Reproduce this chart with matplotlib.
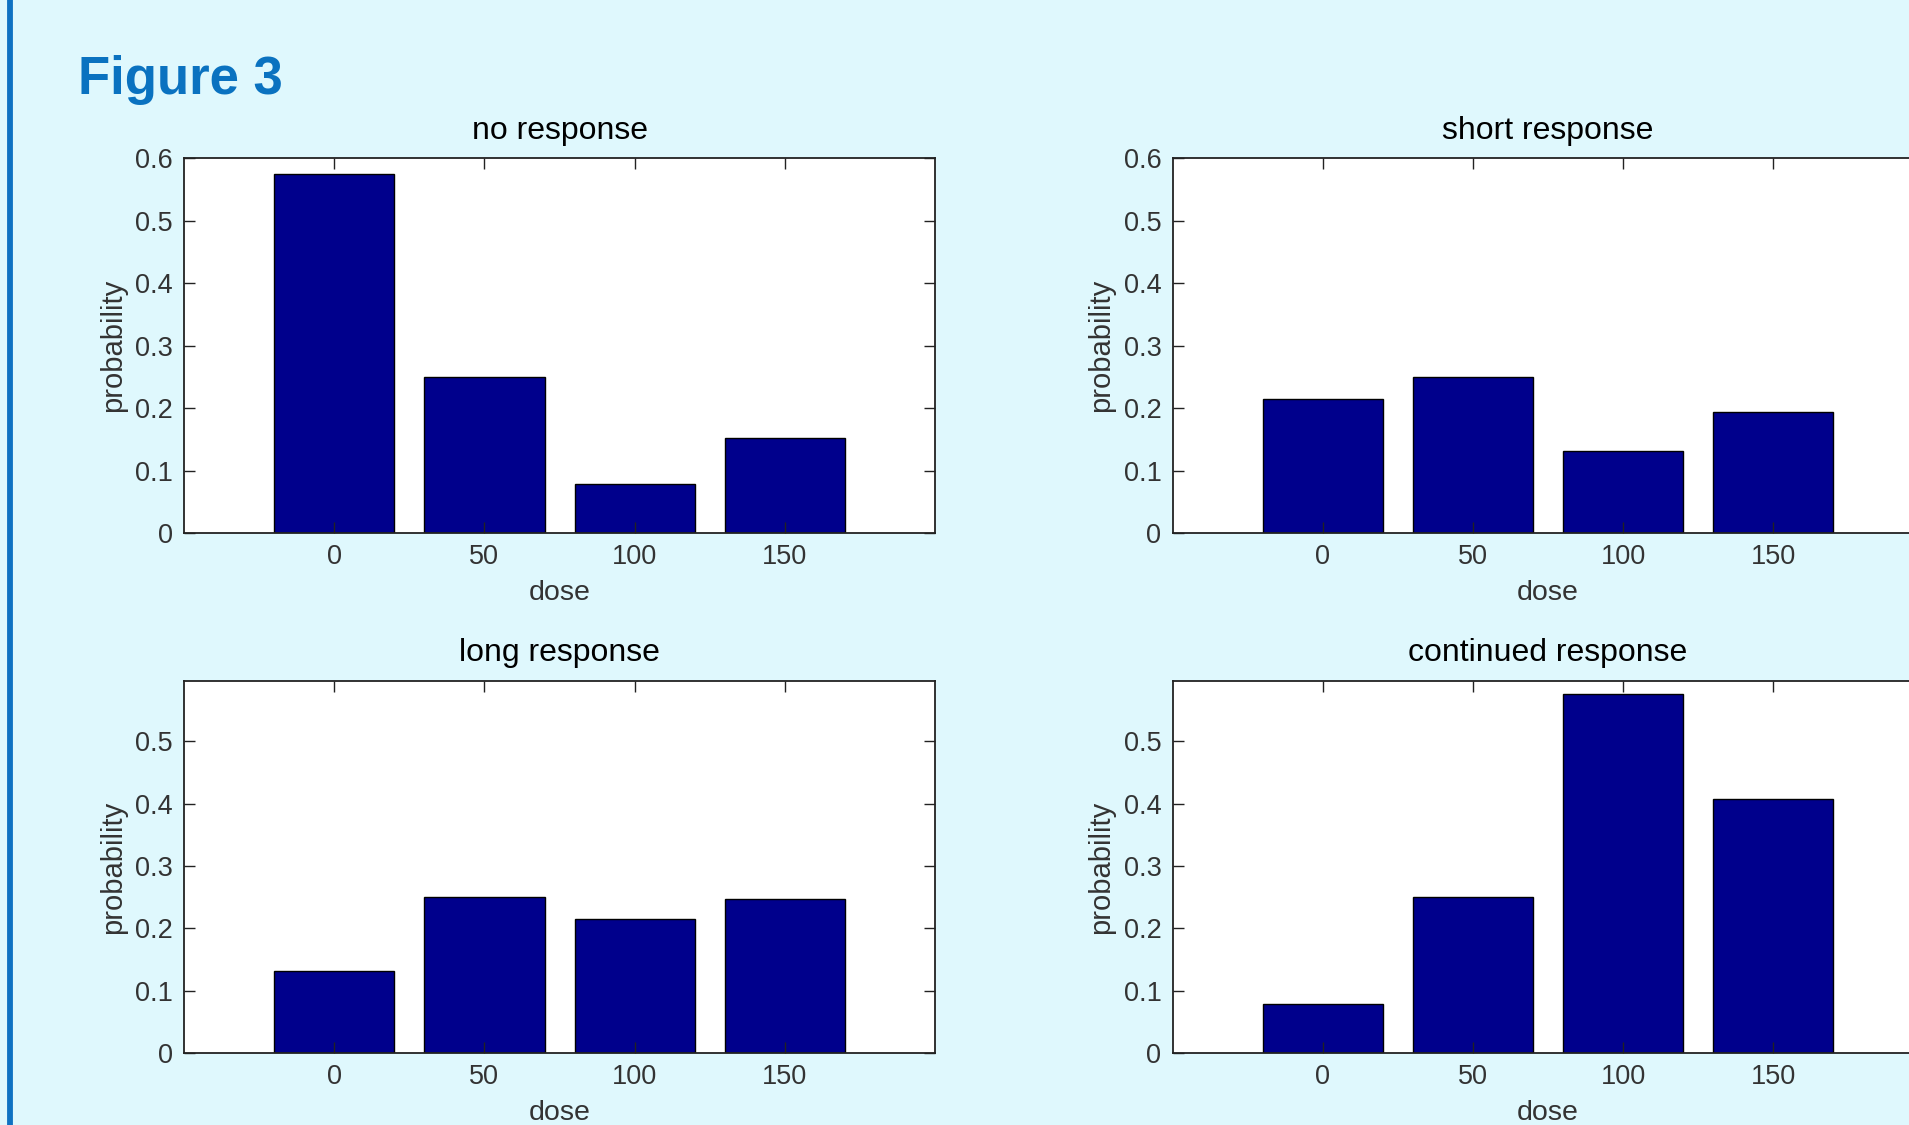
import matplotlib
matplotlib.use("Agg")
import matplotlib.pyplot as plt
from matplotlib.lines import Line2D

plt.rcParams['font.family'] = ['Liberation Sans', 'DejaVu Sans']

# dose levels and response probabilities per category
doses = [0, 50, 100, 150]
titles = ['no response', 'short response', 'long response', 'continued response']
no_resp = [0.575, 0.25, 0.079, 0.152]
short_resp = [0.215, 0.25, 0.132, 0.194]
long_resp = [0.132, 0.25, 0.215, 0.247]
continued_resp = [0.079, 0.25, 0.575, 0.407]
y_tops = [0.6, 0.6, 0.597, 0.597]
y_ticks_top = [0, 0.1, 0.2, 0.3, 0.4, 0.5, 0.6]
y_ticks_bottom = [0, 0.1, 0.2, 0.3, 0.4, 0.5]

bg = '#dff8fd'
bar_color = '#00008c'
text_color = '#333333'

fig = plt.figure(figsize=(19.09, 11.25), dpi=100, facecolor=bg)

# blue rule down the left side
fig.add_artist(Line2D([0.0053, 0.0053], [0, 1], transform=fig.transFigure,
                      color='#0e72c2', lw=4.2))

fig.text(0.041, 0.929, 'Figure 3', color='#0a72c0', fontsize=38,
         fontweight='bold', va='center', ha='left')

# axes rectangles [left, bottom, width, height]
boxes = [
    [0.0964, 0.526, 0.3934, 0.3333],
    [0.6142, 0.526, 0.3934, 0.3333],
    [0.0964, 0.0638, 0.3934, 0.3312],
    [0.6142, 0.0638, 0.3934, 0.3312],
]
all_ticks = [y_ticks_top, y_ticks_top, y_ticks_bottom, y_ticks_bottom]

for box, title, vals, ytop, yt in zip(boxes, titles,
                                      [no_resp, short_resp, long_resp, continued_resp],
                                      y_tops, all_ticks):
    ax = fig.add_axes(box)
    ax.set_facecolor('white')
    ax.bar(doses, vals, width=40, color=bar_color, edgecolor='black', linewidth=1)
    ax.set_xlim(-50, 200)
    ax.set_ylim(0, ytop)
    ax.set_xticks(doses)
    ax.set_yticks(yt)
    ax.set_yticklabels(['%g' % t for t in yt])
    ax.tick_params(direction='in', length=8, width=1, top=True, right=True,
                   labelsize=19.5, labelcolor=text_color, color='#222222', pad=8)
    for s in ax.spines.values():
        s.set_linewidth(1.3)
        s.set_color('#222222')
    ax.set_title(title, fontsize=23, color='black', pad=14)
    ax.set_xlabel('dose', fontsize=20.5, color=text_color, labelpad=7)
    ax.set_ylabel('probability', fontsize=21, color=text_color, labelpad=6)

fig.savefig('out.png', dpi=100, facecolor=bg)
